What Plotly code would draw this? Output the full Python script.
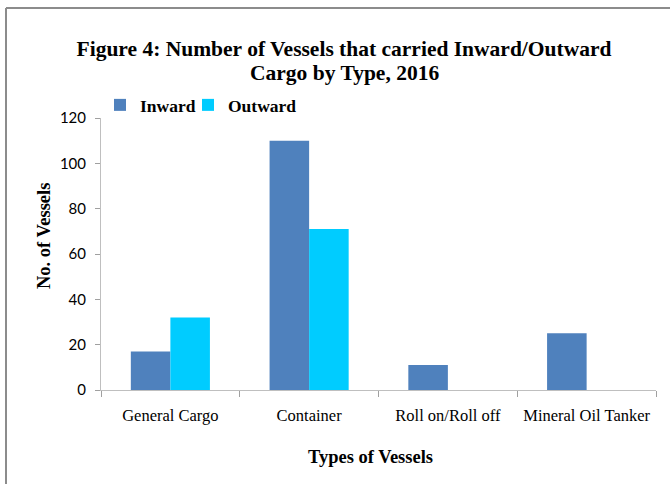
import plotly.graph_objects as go

categories = ["General Cargo", "Container", "Roll on/Roll off", "Mineral Oil Tanker"]
inward = [17, 110, 11, 25]
outward = [32, 71, None, None]
y_ticks = [0, 20, 40, 60, 80, 100, 120]

W, H = 670, 484
L, R, T, B = 101, 14, 118, 94
pw, ph = W - L - R, H - T - B

def px_x(x):
    return (x - L) / pw

def px_y(y):
    return (H - B - y) / ph

serif = "Liberation Serif"
legend_font = dict(family=serif, size=17.5, color="black", weight="bold")

fig = go.Figure()
fig.add_trace(go.Bar(name="Inward", x=categories, y=inward, marker_color="#4F81BD",
                     marker_line_width=0, legend="legend"))
fig.add_trace(go.Bar(name="Outward", x=categories, y=outward, marker_color="#00CCFF",
                     marker_line_width=0, legend="legend2"))

fig.update_layout(
    width=W, height=H,
    margin=dict(l=L, r=R, t=T, b=B),
    paper_bgcolor="white", plot_bgcolor="white",
    barmode="group", bargap=0.43, bargroupgap=0,
    title=dict(
        text="Figure 4: Number of Vessels that carried Inward/Outward",
        font=dict(family=serif, size=21.5, color="black", weight="bold"),
        x=344 / W, xanchor="center", y=1 - 48 / H, yanchor="middle",
    ),
    legend=dict(
        orientation="h", x=px_x(100), xanchor="left", y=px_y(105), yanchor="middle",
        font=legend_font, bgcolor="rgba(0,0,0,0)", itemwidth=30,
    ),
    legend2=dict(
        orientation="h", x=px_x(188), xanchor="left", y=px_y(105), yanchor="middle",
        font=legend_font, bgcolor="rgba(0,0,0,0)", itemwidth=30,
    ),
    showlegend=True,
)
fig.update_xaxes(
    showline=True, linecolor="#bfbfbf", linewidth=1,
    ticks="outside", tickson="boundaries", ticklen=6, tickcolor="#a0a0a0",
    tickfont=dict(family=serif, size=16.5, color="black"),
    tickangle=0, automargin=False, ticklabelstandoff=10,
    showgrid=False, zeroline=False,
)
fig.update_yaxes(
    range=[0, 120], tickvals=y_ticks,
    showline=True, linecolor="#bfbfbf", linewidth=1,
    ticks="outside", ticklen=5, tickcolor="#a0a0a0",
    tickfont=dict(family="Lato", size=15, color="black"),
    automargin=False, ticklabelstandoff=6,
    showgrid=False, zeroline=False,
)
fig.add_annotation(
    text="Cargo by Type, 2016", xref="paper", yref="paper",
    x=px_x(344), y=px_y(73), xanchor="center", yanchor="middle", showarrow=False,
    font=dict(family=serif, size=21.5, color="black", weight="bold"),
)
fig.add_annotation(
    text="No. of Vessels", textangle=-90, xref="paper", yref="paper",
    x=px_x(44), y=px_y(236), xanchor="center", yanchor="middle", showarrow=False,
    font=dict(family=serif, size=18.5, color="black", weight="bold"),
)
fig.add_annotation(
    text="Types of Vessels", xref="paper", yref="paper",
    x=px_x(370), y=px_y(457), xanchor="center", yanchor="middle", showarrow=False,
    font=dict(family=serif, size=18.5, color="black", weight="bold"),
)
# outer frame (left and top edges)
fig.add_shape(type="line", xref="paper", yref="paper",
              x0=px_x(6), x1=px_x(6), y0=px_y(8), y1=px_y(490),
              line=dict(color="#8c8c8c", width=2))
fig.add_shape(type="line", xref="paper", yref="paper",
              x0=px_x(6), x1=px_x(680), y0=px_y(8), y1=px_y(8),
              line=dict(color="#8c8c8c", width=2))

fig.write_html("out.html", config={"displayModeBar": False},
               post_script="document.body.style.margin='0';")
